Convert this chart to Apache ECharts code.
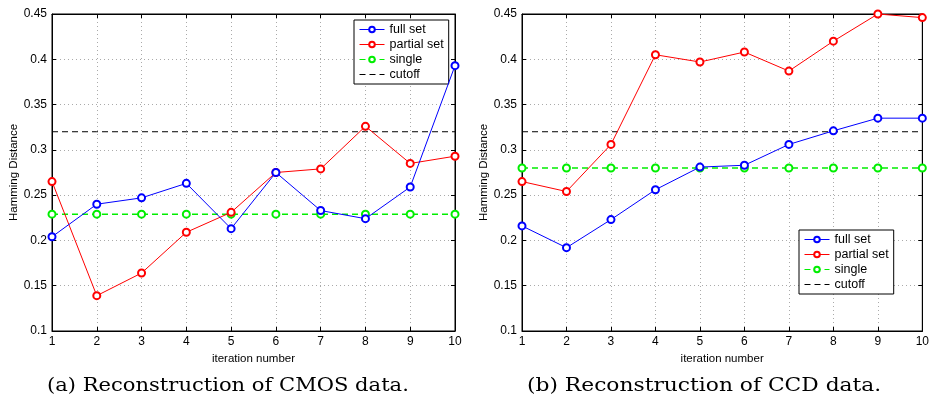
<!DOCTYPE html>
<html>
<head>
<meta charset="utf-8">
<script src="https://cdn.jsdelivr.net/npm/echarts@6/dist/echarts.min.js"></script>
<style>
  html, body { margin: 0; padding: 0; background: #fff; }
  #chart { width: 932px; height: 406px; }
</style>
</head>
<body>
<div id="chart"></div>
<script>
// iterations on the x axis
const iterations = ['1', '2', '3', '4', '5', '6', '7', '8', '9', '10'];

// (a) CMOS data
const cmosFull = [0.204, 0.240, 0.247, 0.263, 0.213, 0.275, 0.233, 0.224, 0.259, 0.393];
const cmosPartial = [0.265, 0.139, 0.164, 0.209, 0.231, 0.275, 0.279, 0.326, 0.285, 0.293];
const cmosSingle = [0.229, 0.229, 0.229, 0.229, 0.229, 0.229, 0.229, 0.229, 0.229, 0.229];
const cmosCutoff = [0.32, 0.32, 0.32, 0.32, 0.32, 0.32, 0.32, 0.32, 0.32, 0.32];

// (b) CCD data
const ccdFull = [0.216, 0.192, 0.223, 0.256, 0.281, 0.283, 0.306, 0.321, 0.335, 0.335];
const ccdPartial = [0.265, 0.254, 0.306, 0.405, 0.397, 0.408, 0.387, 0.420, 0.450, 0.446];
const ccdSingle = [0.28, 0.28, 0.28, 0.28, 0.28, 0.28, 0.28, 0.28, 0.28, 0.28];
const ccdCutoff = [0.32, 0.32, 0.32, 0.32, 0.32, 0.32, 0.32, 0.32, 0.32, 0.32];

const seriesNames = ['full set', 'partial set', 'single', 'cutoff'];
const captions = ['(a) Reconstruction of CMOS data.', '(b) Reconstruction of CCD data.'];

const font = 'Liberation Sans, Arial, sans-serif';
let myChart = echarts.init(document.getElementById('chart'));

// bottom/left axes with labels, top/right only for the inside ticks (matlab box)
function xAxes(gridIndex) {
    return [{
        type: 'category', gridIndex: gridIndex, data: iterations, boundaryGap: false,
        name: 'iteration number', nameLocation: 'middle', nameGap: 18,
        nameTextStyle: { fontFamily: font, fontSize: 11.5, color: '#000' },
        axisLine: { lineStyle: { color: '#000', width: 1 } },
        axisTick: { inside: true, length: 4, alignWithLabel: true, lineStyle: { color: '#000' } },
        axisLabel: { fontFamily: font, fontSize: 12, color: '#000', margin: 5 },
        splitLine: { show: true, lineStyle: { color: '#aaa', type: [1, 3] } }
    }, {
        type: 'category', gridIndex: gridIndex, data: iterations, boundaryGap: false, position: 'top',
        axisLine: { lineStyle: { color: '#000', width: 1 } },
        axisTick: { inside: true, length: 4, lineStyle: { color: '#000' } },
        axisLabel: { show: false }, splitLine: { show: false }
    }];
}

function yAxes(gridIndex) {
    return [{
        type: 'value', gridIndex: gridIndex, min: 0.1, max: 0.45, interval: 0.05,
        name: 'Hamming Distance', nameLocation: 'middle', nameGap: 28,
        nameTextStyle: { fontFamily: font, fontSize: 11.5, color: '#000' },
        axisLine: { show: true, lineStyle: { color: '#000', width: 1 } },
        axisTick: { show: true, inside: true, length: 4, lineStyle: { color: '#000' } },
        axisLabel: { fontFamily: font, fontSize: 12, color: '#000', margin: 5 },
        splitLine: { show: true, lineStyle: { color: '#aaa', type: [1, 3] } }
    }, {
        type: 'value', gridIndex: gridIndex, min: 0.1, max: 0.45, interval: 0.05, position: 'right',
        axisLine: { show: true, lineStyle: { color: '#000', width: 1 } },
        axisTick: { show: true, inside: true, length: 4, lineStyle: { color: '#000' } },
        axisLabel: { show: false }, splitLine: { show: false }
    }];
}

function makeSeries(axisIndex, full, partial, single, cutoff) {
    const marker = { symbol: 'emptyCircle', symbolSize: 7, showSymbol: true };
    return [{
        name: 'full set', type: 'line', xAxisIndex: axisIndex, yAxisIndex: axisIndex, data: full,
        ...marker, z: 4,
        lineStyle: { color: '#0000ff', width: 1 }, itemStyle: { color: '#0000ff', borderWidth: 1 }
    }, {
        name: 'partial set', type: 'line', xAxisIndex: axisIndex, yAxisIndex: axisIndex, data: partial,
        ...marker, z: 3,
        lineStyle: { color: '#ff0000', width: 1 }, itemStyle: { color: '#ff0000', borderWidth: 1 }
    }, {
        name: 'single', type: 'line', xAxisIndex: axisIndex, yAxisIndex: axisIndex, data: single,
        ...marker, z: 2,
        lineStyle: { color: '#00ee00', width: 1.5, type: [6, 4] }, itemStyle: { color: '#00ee00', borderWidth: 1 }
    }, {
        name: 'cutoff', type: 'line', xAxisIndex: axisIndex, yAxisIndex: axisIndex, data: cutoff,
        symbol: 'none', z: 1,
        lineStyle: { color: '#000', width: 1, type: [6, 4] }, itemStyle: { color: '#000' }
    }];
}

function legendBox(left, top) {
    return {
        left: left, top: top, orient: 'vertical',
        data: ['full set', 'partial set', 'single', { name: 'cutoff', itemStyle: { opacity: 0 } }],
        backgroundColor: '#fff', borderColor: '#000', borderWidth: 1, borderRadius: 0,
        padding: [3, 5, 3, 5], itemGap: 2, itemWidth: 25, itemHeight: 7,
        lineStyle: { width: 1 },
        itemStyle: { borderWidth: 1 },
        textStyle: { fontFamily: font, fontSize: 12.5, color: '#000' },
        selectedMode: false
    };
}

// caption under each panel, stretched a little to the width of the latex font
function caption(text, x, stretch) {
    return {
        type: 'text', x: x, y: 377, scaleX: stretch,
        style: { text: text, font: '18px "DejaVu Serif", serif', fill: '#000', verticalAlign: 'top' }
    };
}

let option = {
    backgroundColor: '#fff',
    animation: false,
    grid: [
        { left: 52, top: 14, width: 403, height: 317, show: true, borderColor: '#000', borderWidth: 1 },
        { left: 522, top: 14, width: 403, height: 317, show: true, borderColor: '#000', borderWidth: 1 }
    ],
    xAxis: [...xAxes(0), ...xAxes(1)],
    yAxis: [...yAxes(0), ...yAxes(1)],
    legend: [legendBox(354, 20), legendBox(799, 230)],
    series: [
        ...makeSeries(0, cmosFull, cmosPartial, cmosSingle, cmosCutoff),
        ...makeSeries(2, ccdFull, ccdPartial, ccdSingle, ccdCutoff)
    ],
    graphic: [
        caption(captions[0], 47, 1.17),
        caption(captions[1], 527, 1.21)
    ]
};
myChart.setOption(option);
</script>
</body>
</html>
